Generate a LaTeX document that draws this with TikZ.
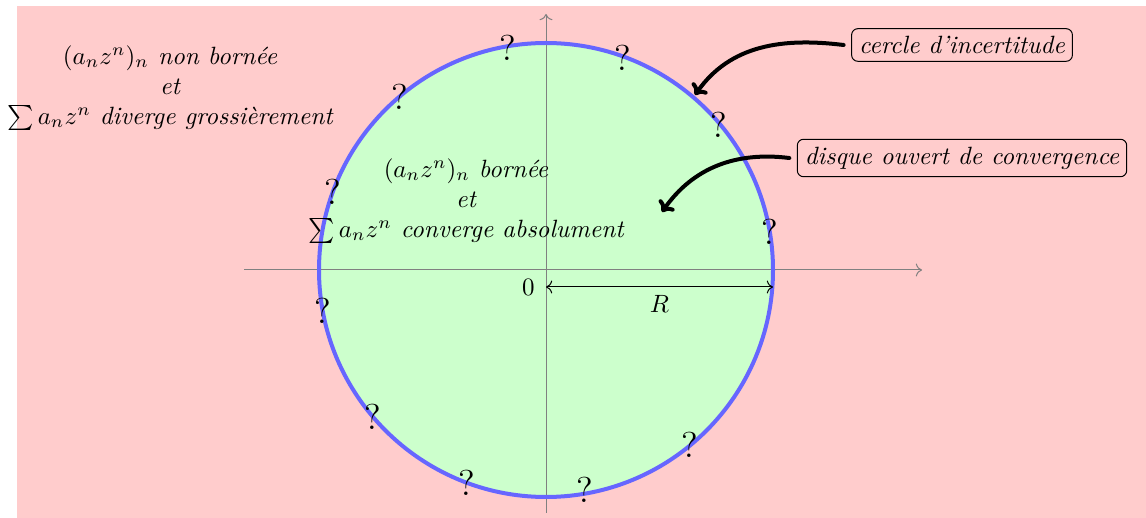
\documentclass[tikz,border=0pt]{standalone}
\usepackage{amsmath}
\usetikzlibrary{arrows.meta}
\begin{document}
\begin{tikzpicture}[x=0.4pt,y=-0.4pt,
  lbl/.style={font=\itshape, align=center, inner sep=0pt},
  qm/.style={font=\Large, inner sep=0pt},
  callout/.style={draw, rounded corners=2.5pt, font=\itshape, inner sep=3pt, fill=red!20},
  bigarrow/.style={-{To[length=4pt,width=7.5pt]}, line width=1.6pt, line cap=round},
  axis/.style={gray, -{To}}]
\useasboundingbox (0,0) rectangle (1146,518);
\fill[red!20] (17,6) rectangle (1146,518);
\coordinate (O) at (546,270);
\fill[green!20] (O) circle[radius=227];
\draw[axis] (244,270) -- (922,270);
\draw[axis] (546,513) -- (546,14);
\draw[blue!60, line width=1.6pt] (O) circle[radius=227];
\coordinate (Rs) at (546,287);
\coordinate (Re) at (773,287);
\draw[{To}-{To}] (Rs) -- node[below=0pt]{$R$} (Re);
\node[anchor=east, inner sep=2pt] (zero) at (540,287) {$0$};
\node[lbl] (out) at (170,88) {$(a_nz^n)_n$ non bornée\\et\\$\sum a_nz^n$ diverge grossièrement};
\node[lbl] (in) at (466,201) {$(a_nz^n)_n$ bornée\\et\\$\sum a_nz^n$ converge absolument};
\node[callout] (c1) at (962,45) {cercle d'incertitude};
\node[callout] (c2) at (962,158) {disque ouvert de convergence};
\coordinate (t1) at (695,95);
\coordinate (t2) at (662,212);
\draw[bigarrow] ([xshift=-3pt]c1.west) to[out=173,in=55] (t1);
\draw[bigarrow] ([xshift=-3pt]c2.west) to[out=173,in=55] (t2);
\foreach \p [count=\i] in {(508,48),(623,58),(400,97),(719,125),(333,192),(770,232),(323,311),(373,417),(690,445),(467,483),(585,490)}
  \node[qm] (q\i) at \p {?};
\end{tikzpicture}
\end{document}
